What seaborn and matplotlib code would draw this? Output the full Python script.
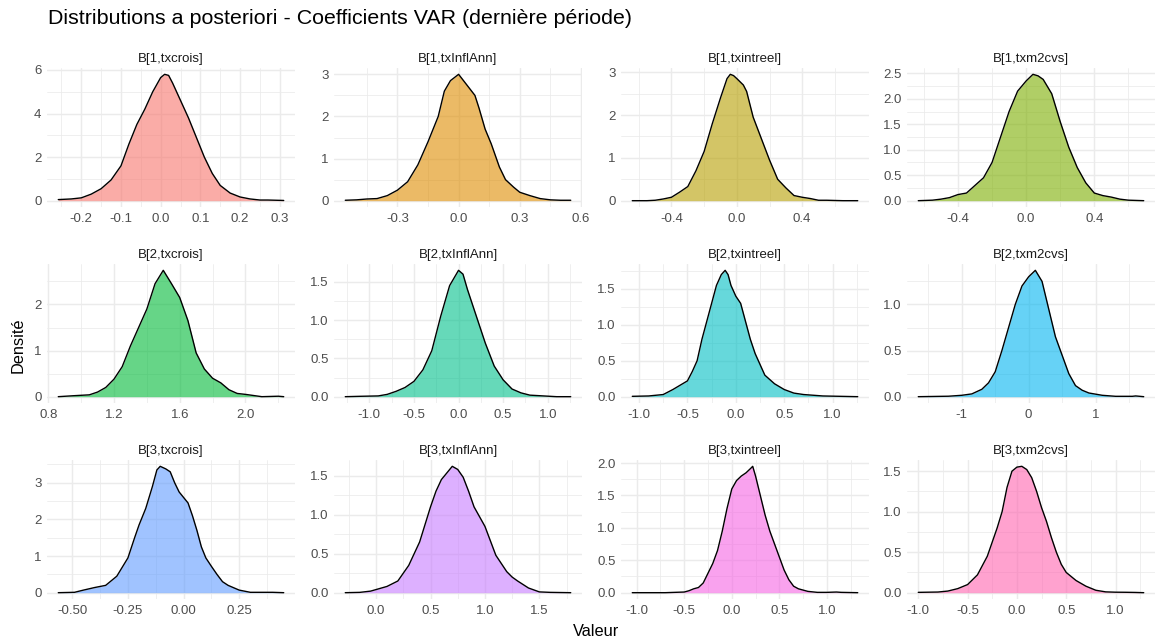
import numpy as np
import pandas as pd
import matplotlib
matplotlib.use("Agg")
import matplotlib.pyplot as plt
import seaborn as sns

# ---------------- data ----------------
panel_titles = ["B[1,txcrois]", "B[1,txInflAnn]", "B[1,txintreel]", "B[1,txm2cvs]",
                "B[2,txcrois]", "B[2,txInflAnn]", "B[2,txintreel]", "B[2,txm2cvs]",
                "B[3,txcrois]", "B[3,txInflAnn]", "B[3,txintreel]", "B[3,txm2cvs]"]

fill_colors = ["#F8766D", "#DE8C00", "#B79F00", "#7CAE00", "#00BA38", "#00C08B",
               "#00BFC4", "#00B4F0", "#619CFF", "#C77CFF", "#F564E3", "#FF64B0"]

x_p1 = [-0.258, -0.225, -0.2, -0.175, -0.15, -0.125, -0.1, -0.08, -0.06, -0.04, -0.02, 0.0, 0.01, 0.02, 0.03, 0.05, 0.07, 0.09, 0.11, 0.13, 0.15, 0.175, 0.2, 0.225, 0.25, 0.27, 0.29, 0.31]
d_p1 = [0.05, 0.08, 0.13, 0.3, 0.55, 0.95, 1.6, 2.6, 3.5, 4.2, 5.0, 5.65, 5.8, 5.75, 5.4, 4.6, 3.8, 2.9, 2.0, 1.25, 0.7, 0.35, 0.17, 0.08, 0.03, 0.03, 0.02, 0.01]

x_p2 = [-0.556, -0.5, -0.45, -0.4, -0.35, -0.3, -0.25, -0.2, -0.15, -0.1, -0.07, -0.04, 0.0, 0.04, 0.08, 0.1, 0.13, 0.16, 0.2, 0.23, 0.27, 0.3, 0.35, 0.4, 0.45, 0.5, 0.55]
d_p2 = [0.01, 0.02, 0.04, 0.05, 0.12, 0.25, 0.45, 0.85, 1.4, 2.0, 2.6, 2.85, 3.0, 2.75, 2.5, 2.2, 1.7, 1.35, 0.8, 0.5, 0.32, 0.2, 0.12, 0.05, 0.02, 0.01, 0.01]

x_p3 = [-0.64, -0.55, -0.5, -0.45, -0.4, -0.35, -0.3, -0.25, -0.2, -0.15, -0.1, -0.06, -0.04, -0.02, 0.0, 0.04, 0.06, 0.1, 0.15, 0.2, 0.25, 0.3, 0.35, 0.4, 0.45, 0.5, 0.55, 0.65, 0.74]
d_p3 = [0.0, 0.0, 0.01, 0.04, 0.08, 0.2, 0.33, 0.7, 1.15, 1.8, 2.4, 2.85, 2.95, 2.92, 2.85, 2.7, 2.55, 1.95, 1.45, 0.95, 0.5, 0.3, 0.12, 0.08, 0.05, 0.01, 0.01, 0.0, 0.0]

x_p4 = [-0.633, -0.55, -0.5, -0.45, -0.4, -0.35, -0.3, -0.25, -0.2, -0.15, -0.1, -0.05, 0.0, 0.04, 0.07, 0.1, 0.15, 0.2, 0.25, 0.3, 0.35, 0.4, 0.45, 0.5, 0.55, 0.6, 0.69]
d_p4 = [0.0, 0.01, 0.03, 0.06, 0.12, 0.15, 0.3, 0.45, 0.75, 1.25, 1.75, 2.15, 2.35, 2.48, 2.45, 2.38, 2.1, 1.55, 1.05, 0.65, 0.35, 0.15, 0.1, 0.07, 0.03, 0.01, 0.0]

x_p5 = [0.861, 0.95, 1.05, 1.1, 1.15, 1.2, 1.25, 1.3, 1.35, 1.4, 1.45, 1.5, 1.55, 1.6, 1.65, 1.7, 1.75, 1.8, 1.85, 1.9, 1.95, 2.0, 2.1, 2.2, 2.233]
d_p5 = [0.0, 0.02, 0.04, 0.1, 0.2, 0.38, 0.65, 1.1, 1.5, 1.9, 2.45, 2.74, 2.45, 2.15, 1.65, 0.95, 0.6, 0.4, 0.3, 0.15, 0.07, 0.05, 0.0, 0.01, 0.0]

x_p6 = [-1.27, -1.1, -0.9, -0.8, -0.7, -0.6, -0.5, -0.4, -0.3, -0.2, -0.1, 0.0, 0.05, 0.1, 0.2, 0.3, 0.4, 0.5, 0.6, 0.7, 0.8, 0.95, 1.1, 1.258]
d_p6 = [0.0, 0.005, 0.01, 0.03, 0.07, 0.12, 0.2, 0.35, 0.6, 1.05, 1.45, 1.65, 1.6, 1.4, 1.05, 0.7, 0.4, 0.22, 0.1, 0.05, 0.02, 0.01, 0.0, 0.0]

x_p7 = [-1.07, -0.9, -0.75, -0.65, -0.55, -0.5, -0.45, -0.4, -0.35, -0.3, -0.25, -0.2, -0.15, -0.11, -0.08, -0.05, 0.0, 0.05, 0.1, 0.15, 0.2, 0.25, 0.3, 0.4, 0.5, 0.6, 0.7, 0.8, 0.9, 1.26]
d_p7 = [0.005, 0.01, 0.03, 0.1, 0.18, 0.22, 0.35, 0.5, 0.8, 1.05, 1.3, 1.55, 1.7, 1.76, 1.7, 1.55, 1.4, 1.3, 1.05, 0.8, 0.6, 0.45, 0.3, 0.18, 0.1, 0.05, 0.03, 0.02, 0.01, 0.0]

x_p8 = [-1.65, -1.2, -1.0, -0.85, -0.7, -0.6, -0.5, -0.4, -0.3, -0.2, -0.1, 0.0, 0.1, 0.2, 0.3, 0.4, 0.5, 0.6, 0.7, 0.8, 0.9, 1.1, 1.3, 1.55, 1.6, 1.72]
d_p8 = [0.0, 0.005, 0.015, 0.03, 0.08, 0.15, 0.27, 0.5, 0.75, 1.0, 1.2, 1.3, 1.37, 1.25, 0.95, 0.65, 0.45, 0.25, 0.12, 0.07, 0.04, 0.015, 0.004, 0.004, 0.008, 0.0]

x_p9 = [-0.563, -0.49, -0.45, -0.4, -0.35, -0.3, -0.25, -0.22, -0.2, -0.17, -0.14, -0.12, -0.105, -0.08, -0.06, -0.04, -0.02, 0.0, 0.02, 0.04, 0.06, 0.08, 0.1, 0.125, 0.15, 0.175, 0.2, 0.25, 0.3, 0.4, 0.45]
d_p9 = [0.0, 0.01, 0.07, 0.14, 0.2, 0.45, 0.95, 1.5, 1.85, 2.3, 2.9, 3.35, 3.45, 3.38, 3.3, 3.0, 2.75, 2.6, 2.45, 2.1, 1.7, 1.25, 0.95, 0.72, 0.5, 0.3, 0.2, 0.07, 0.01, 0.01, 0.0]

x_p10 = [-0.283, -0.15, -0.05, 0.0, 0.1, 0.2, 0.3, 0.4, 0.5, 0.55, 0.6, 0.7, 0.75, 0.8, 0.85, 0.9, 1.0, 1.1, 1.2, 1.25, 1.3, 1.4, 1.5, 1.6, 1.788]
d_p10 = [0.0, 0.004, 0.02, 0.04, 0.08, 0.15, 0.35, 0.65, 1.1, 1.3, 1.45, 1.62, 1.58, 1.48, 1.3, 1.1, 0.85, 0.48, 0.27, 0.2, 0.15, 0.06, 0.01, 0.004, 0.0]

x_p11 = [-1.046, -0.7, -0.5, -0.45, -0.4, -0.35, -0.3, -0.25, -0.2, -0.15, -0.1, -0.05, 0.0, 0.05, 0.1, 0.15, 0.2, 0.22, 0.25, 0.3, 0.35, 0.4, 0.45, 0.5, 0.55, 0.6, 0.65, 0.7, 0.8, 0.9, 1.0, 1.1, 1.15, 1.324]
d_p11 = [0.0, 0.0, 0.01, 0.03, 0.06, 0.08, 0.15, 0.3, 0.45, 0.65, 0.95, 1.3, 1.6, 1.73, 1.8, 1.85, 1.92, 1.95, 1.8, 1.5, 1.2, 0.95, 0.75, 0.55, 0.35, 0.2, 0.1, 0.06, 0.02, 0.005, 0.005, 0.01, 0.005, 0.0]

x_p12 = [-1.0, -0.8, -0.7, -0.6, -0.5, -0.4, -0.3, -0.2, -0.15, -0.1, -0.05, 0.0, 0.05, 0.1, 0.15, 0.2, 0.25, 0.3, 0.35, 0.4, 0.45, 0.5, 0.55, 0.6, 0.7, 0.8, 0.9, 1.0, 1.1, 1.2, 1.286]
d_p12 = [0.004, 0.008, 0.02, 0.05, 0.1, 0.22, 0.45, 0.8, 1.0, 1.3, 1.5, 1.55, 1.56, 1.52, 1.42, 1.25, 1.05, 0.88, 0.68, 0.5, 0.35, 0.25, 0.2, 0.15, 0.08, 0.03, 0.01, 0.006, 0.005, 0.003, 0.0]

xticks_p1 = [-0.2, -0.1, 0.0, 0.1, 0.2, 0.3]; xlabels_p1 = ["-0.2", "-0.1", "0.0", "0.1", "0.2", "0.3"]
xticks_p2 = [-0.3, 0.0, 0.3, 0.6]; xlabels_p2 = ["-0.3", "0.0", "0.3", "0.6"]
xticks_p3 = [-0.4, 0.0, 0.4]; xlabels_p3 = ["-0.4", "0.0", "0.4"]
xticks_p4 = [-0.4, 0.0, 0.4]; xlabels_p4 = ["-0.4", "0.0", "0.4"]
xticks_p5 = [0.8, 1.2, 1.6, 2.0]; xlabels_p5 = ["0.8", "1.2", "1.6", "2.0"]
xticks_p6 = [-1.0, -0.5, 0.0, 0.5, 1.0]; xlabels_p6 = ["-1.0", "-0.5", "0.0", "0.5", "1.0"]
xticks_p7 = [-1.0, -0.5, 0.0, 0.5, 1.0]; xlabels_p7 = ["-1.0", "-0.5", "0.0", "0.5", "1.0"]
xticks_p8 = [-1, 0, 1]; xlabels_p8 = ["-1", "0", "1"]
xticks_p9 = [-0.5, -0.25, 0.0, 0.25]; xlabels_p9 = ["-0.50", "-0.25", "0.00", "0.25"]
xticks_p10 = [0.0, 0.5, 1.0, 1.5]; xlabels_p10 = ["0.0", "0.5", "1.0", "1.5"]
xticks_p11 = [-1.0, -0.5, 0.0, 0.5, 1.0]; xlabels_p11 = ["-1.0", "-0.5", "0.0", "0.5", "1.0"]
xticks_p12 = [-1.0, -0.5, 0.0, 0.5, 1.0]; xlabels_p12 = ["-1.0", "-0.5", "0.0", "0.5", "1.0"]

yticks_p1 = [0, 2, 4, 6]; ylabels_p1 = ["0", "2", "4", "6"]
yticks_p2 = [0, 1, 2, 3]; ylabels_p2 = ["0", "1", "2", "3"]
yticks_p3 = [0, 1, 2, 3]; ylabels_p3 = ["0", "1", "2", "3"]
yticks_p4 = [0, 0.5, 1.0, 1.5, 2.0, 2.5]; ylabels_p4 = ["0.0", "0.5", "1.0", "1.5", "2.0", "2.5"]
yticks_p5 = [0, 1, 2]; ylabels_p5 = ["0", "1", "2"]
yticks_p6 = [0, 0.5, 1.0, 1.5]; ylabels_p6 = ["0.0", "0.5", "1.0", "1.5"]
yticks_p7 = [0, 0.5, 1.0, 1.5]; ylabels_p7 = ["0.0", "0.5", "1.0", "1.5"]
yticks_p8 = [0, 0.5, 1.0]; ylabels_p8 = ["0.0", "0.5", "1.0"]
yticks_p9 = [0, 1, 2, 3]; ylabels_p9 = ["0", "1", "2", "3"]
yticks_p10 = [0, 0.5, 1.0, 1.5]; ylabels_p10 = ["0.0", "0.5", "1.0", "1.5"]
yticks_p11 = [0, 0.5, 1.0, 1.5, 2.0]; ylabels_p11 = ["0.0", "0.5", "1.0", "1.5", "2.0"]
yticks_p12 = [0, 0.5, 1.0, 1.5]; ylabels_p12 = ["0.0", "0.5", "1.0", "1.5"]

title_text = "Distributions a posteriori - Coefficients VAR (dernière période)"
xlabel_text = "Valeur"
ylabel_text = "Densité"

# ---------------- assemble ----------------
xs = [x_p1, x_p2, x_p3, x_p4, x_p5, x_p6, x_p7, x_p8, x_p9, x_p10, x_p11, x_p12]
ds = [d_p1, d_p2, d_p3, d_p4, d_p5, d_p6, d_p7, d_p8, d_p9, d_p10, d_p11, d_p12]
xt = [xticks_p1, xticks_p2, xticks_p3, xticks_p4, xticks_p5, xticks_p6,
      xticks_p7, xticks_p8, xticks_p9, xticks_p10, xticks_p11, xticks_p12]
xl = [xlabels_p1, xlabels_p2, xlabels_p3, xlabels_p4, xlabels_p5, xlabels_p6,
      xlabels_p7, xlabels_p8, xlabels_p9, xlabels_p10, xlabels_p11, xlabels_p12]
yt = [yticks_p1, yticks_p2, yticks_p3, yticks_p4, yticks_p5, yticks_p6,
      yticks_p7, yticks_p8, yticks_p9, yticks_p10, yticks_p11, yticks_p12]
yl = [ylabels_p1, ylabels_p2, ylabels_p3, ylabels_p4, ylabels_p5, ylabels_p6,
      ylabels_p7, ylabels_p8, ylabels_p9, ylabels_p10, ylabels_p11, ylabels_p12]

df = pd.concat([pd.DataFrame({"param": panel_titles[i], "x": xs[i], "d": ds[i]})
                for i in range(12)], ignore_index=True)

sns.set_theme(style="white")
plt.rcParams["font.family"] = ["Liberation Sans", "DejaVu Sans"]

W, H = 1158, 643
fig = plt.figure(figsize=(W / 100, H / 100), dpi=100)
fig.patch.set_facecolor("white")

col_left = [47, 334, 621, 907]
panel_w = 248
row_top = [68, 264, 460]
panel_h = 139

grid_col = "#EBEBEB"
tick_col = "#4D4D4D"


def minor_positions(ticks, lo, hi):
    t = np.asarray(ticks, dtype=float)
    step = t[1] - t[0]
    cand = np.concatenate([[t[0] - step / 2], (t[:-1] + t[1:]) / 2, [t[-1] + step / 2]])
    return [c for c in cand if lo <= c <= hi]


for i in range(12):
    r, c = divmod(i, 4)
    ax = fig.add_axes([col_left[c] / W, 1 - (row_top[r] + panel_h) / H,
                       panel_w / W, panel_h / H])
    sub = df[df["param"] == panel_titles[i]]
    xv = sub["x"].to_numpy()
    dv = sub["d"].to_numpy()
    ax.fill_between(xv, 0, dv, color=fill_colors[i], alpha=0.6, linewidth=0, zorder=2)
    sns.lineplot(data=sub, x="x", y="d", ax=ax, color="black", linewidth=1.0,
                 sort=False, estimator=None, zorder=3)
    xmin, xmax = xv.min(), xv.max()
    wx = xmax - xmin
    ymax = dv.max()
    ax.set_xlim(xmin - 0.05 * wx, xmax + 0.05 * wx)
    ax.set_ylim(-0.05 * ymax, 1.05 * ymax)
    lo, hi = ax.get_xlim()
    ylo, yhi = ax.get_ylim()
    ax.set_xticks(xt[i])
    ax.set_xticklabels(xl[i])
    ax.set_yticks(yt[i])
    ax.set_yticklabels(yl[i])
    ax.set_xticks(minor_positions(xt[i], lo, hi), minor=True)
    ax.set_yticks(minor_positions(yt[i], ylo, yhi), minor=True)
    ax.grid(which="major", color=grid_col, linewidth=1.05, zorder=0)
    ax.grid(which="minor", color=grid_col, linewidth=0.55, zorder=0)
    ax.set_axisbelow(True)
    for s in ax.spines.values():
        s.set_visible(False)
    ax.tick_params(which="both", length=0, labelsize=9.5, labelcolor=tick_col, pad=4.0)
    ax.set_xlabel("")
    ax.set_ylabel("")
    ax.set_title(panel_titles[i], fontsize=9.5, color="#1A1A1A", pad=4.5)
    ax.set_facecolor("white")

fig.text(48 / W, 1 - 19 / H, title_text, fontsize=15.4, color="black", ha="left", va="center")
fig.text(596 / W, 1 - 632 / H, xlabel_text, fontsize=11.8, color="black", ha="center", va="center")
fig.text(18 / W, 1 - 345 / H, ylabel_text, fontsize=11.8, color="black", ha="center", va="center",
         rotation=90)

fig.savefig("out.png", dpi=100, facecolor="white")
